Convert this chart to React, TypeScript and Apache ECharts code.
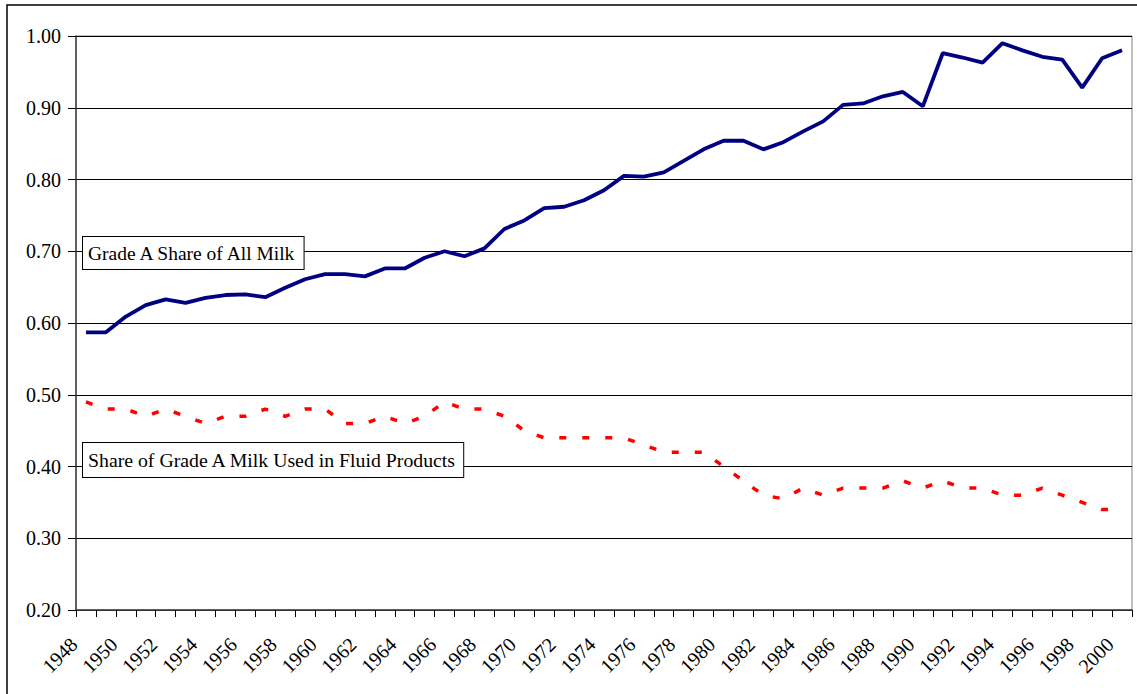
import React, { useEffect, useRef } from "react";
import * as echarts from "echarts";

const years = [
  "1948", "1949", "1950", "1951", "1952", "1953", "1954", "1955", "1956", "1957",
  "1958", "1959", "1960", "1961", "1962", "1963", "1964", "1965", "1966", "1967",
  "1968", "1969", "1970", "1971", "1972", "1973", "1974", "1975", "1976", "1977",
  "1978", "1979", "1980", "1981", "1982", "1983", "1984", "1985", "1986", "1987",
  "1988", "1989", "1990", "1991", "1992", "1993", "1994", "1995", "1996", "1997",
  "1998", "1999", "2000",
];

const gradeAShare = [
  0.587, 0.587, 0.609, 0.625, 0.633, 0.628, 0.635, 0.639, 0.640, 0.636,
  0.649, 0.661, 0.668, 0.668, 0.665, 0.676, 0.676, 0.691, 0.700, 0.693,
  0.704, 0.731, 0.743, 0.760, 0.762, 0.771, 0.785, 0.805, 0.804, 0.810,
  0.826, 0.842, 0.854, 0.854, 0.842, 0.852, 0.867, 0.881, 0.904, 0.906,
  0.916, 0.922, 0.902, 0.976, 0.970, 0.963, 0.990, 0.980, 0.971, 0.967,
  0.928, 0.969, 0.980,
];

const fluidShare = [
  0.49, 0.48, 0.48, 0.47, 0.48, 0.47, 0.46, 0.47, 0.47, 0.48,
  0.47, 0.48, 0.48, 0.46, 0.46, 0.47, 0.46, 0.47, 0.49, 0.48,
  0.48, 0.47, 0.45, 0.44, 0.44, 0.44, 0.44, 0.44, 0.43, 0.42,
  0.42, 0.42, 0.40, 0.38, 0.36, 0.355, 0.37, 0.36, 0.37, 0.37,
  0.37, 0.38, 0.37, 0.38, 0.37, 0.37, 0.36, 0.36, 0.37, 0.36,
  0.35, 0.34, 0.34,
];

const seriesNames = [
  "Grade A Share of All Milk",
  "Share of Grade A Milk Used in Fluid Products",
];

const FONT = '"Liberation Serif", "Times New Roman", serif';

export default function App() {
  const ref = useRef<HTMLDivElement>(null);

  useEffect(() => {
    document.body.style.margin = "0";
    if (!ref.current) return;
    const chart = echarts.init(ref.current, null, { renderer: "svg" });
    const boxText = (text: string, x: number, y: number, pad: number[], size: number) => ({
      type: "text",
      x,
      y,
      z: 100,
      style: {
        text,
        fontFamily: FONT,
        fontSize: size,
        lineHeight: 22,
        fill: "#000",
        backgroundColor: "#fff",
        borderColor: "#000",
        borderWidth: 1,
        padding: pad,
        align: "left",
        verticalAlign: "top",
      },
    });
    chart.setOption({
      animation: false,
      backgroundColor: "#fff",
      grid: {
        left: 76,
        right: 5,
        top: 36,
        bottom: 84,
        show: true,
        borderColor: "#808080",
        borderWidth: 1,
        containLabel: false,
      },
      xAxis: {
        type: "category",
        data: years,
        boundaryGap: true,
        axisLine: { show: true, lineStyle: { color: "#404040", width: 1.5 } },
        axisTick: { show: true, interval: 0, length: 7, lineStyle: { color: "#000" } },
        axisLabel: {
          interval: 1,
          rotate: 45,
          margin: 19,
          padding: [0, 17, 0, 0],
          fontFamily: FONT,
          fontSize: 20,
          color: "#000",
        },
        splitLine: { show: false },
      },
      yAxis: {
        type: "value",
        min: 0.2,
        max: 1.0,
        interval: 0.1,
        axisLine: { show: true, lineStyle: { color: "#404040", width: 1.5 } },
        axisTick: { show: true, length: 8, lineStyle: { color: "#000" } },
        axisLabel: {
          margin: 15,
          fontFamily: FONT,
          fontSize: 20,
          color: "#000",
          formatter: (v: number) => v.toFixed(2),
        },
        splitLine: { show: true, lineStyle: { color: "#000", width: 1 } },
      },
      series: [
        {
          name: seriesNames[0],
          type: "line",
          data: gradeAShare,
          symbol: "none",
          lineStyle: { color: "#000080", width: 3.8 },
          z: 3,
        },
        {
          name: seriesNames[1],
          type: "line",
          data: fluidShare,
          symbol: "none",
          lineStyle: { color: "#FF0000", width: 3.5, type: [7, 16], cap: "butt" },
          z: 3,
        },
      ],
      graphic: [
        {
          type: "rect",
          x: 7,
          y: 5,
          z: 0,
          shape: { x: 0, y: 0, width: 1150, height: 710 },
          style: { fill: "none", stroke: "#000", lineWidth: 1.5 },
        },
        boxText(seriesNames[0], 83, 237, [5, 6, 5, 5], 19.5),
        boxText(seriesNames[1], 83, 443, [6, 6, 6, 5], 19.8),
      ],
    });
    return () => chart.dispose();
  }, []);

  return <div ref={ref} style={{ width: 1137, height: 694 }} />;
}
